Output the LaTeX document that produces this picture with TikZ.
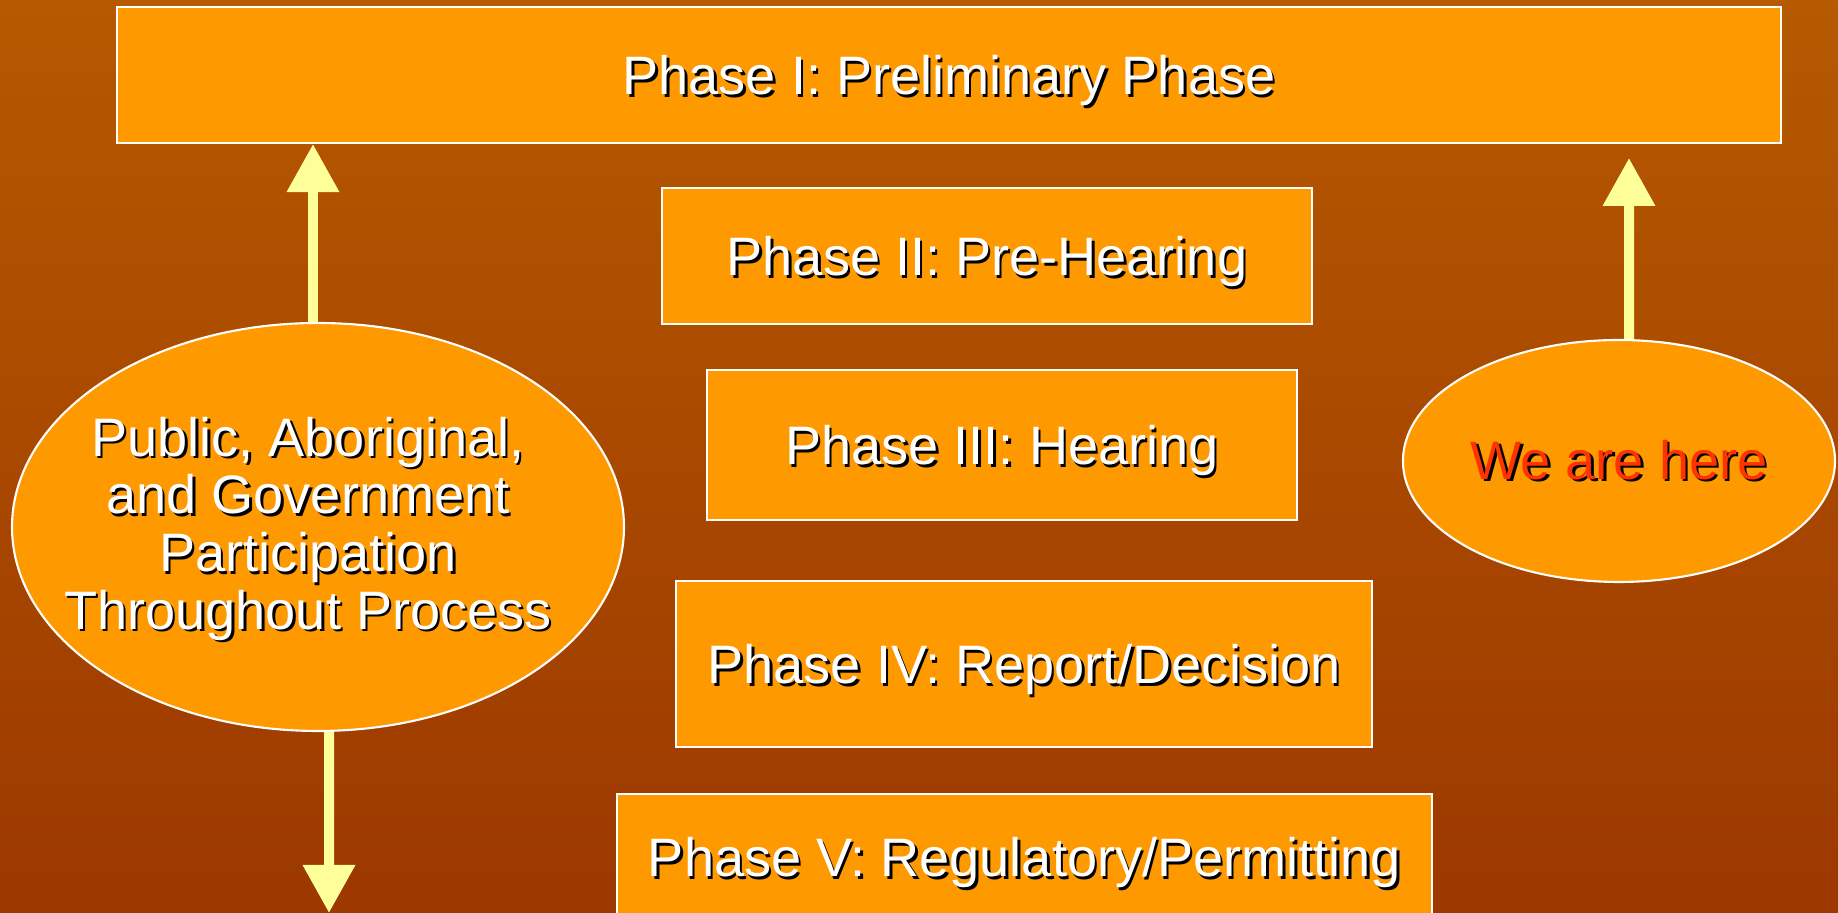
\documentclass[tikz,border=0pt]{standalone}
\usepackage{fontspec}
\setmainfont{Liberation Sans}
\usetikzlibrary{shapes.geometric, arrows.meta}

\definecolor{bgtop}{RGB}{182,89,0}
\definecolor{bgbottom}{RGB}{156,56,0}
\definecolor{boxorange}{RGB}{255,153,0}
\definecolor{arrowyellow}{RGB}{255,255,153}
\definecolor{herered}{RGB}{255,51,0}

\newcommand{\shadowed}[1]{\leavevmode\rlap{\raisebox{-0.7pt}{\hspace{0.7pt}\textcolor{black}{#1}}}#1}

\begin{document}
\begin{tikzpicture}

    \tikzstyle{phasebox} = [draw=white, line width=0.6pt, fill=boxorange, text=white, inner sep=0, text depth=0pt, font=\fontsize{15.4pt}{16.2pt}\selectfont];
    \tikzstyle{oval} = [draw=white, line width=0.6pt, fill=boxorange, ellipse, inner sep=0];
    \tikzstyle{ovaltext} = [text=white, align=center, inner sep=0, font=\fontsize{15.4pt}{16.4pt}\selectfont];
    \tikzstyle{arrow} = [line width=1mm, arrowyellow, -{Triangle[length=4.8mm, width=5mm]}];

    \useasboundingbox (0,0) rectangle (18.38,9.13);
    \shade[top color=bgtop, bottom color=bgbottom] (0,0) rectangle (18.38,9.13);

    % Phases
    \node[phasebox, minimum width=16.64cm, minimum height=1.36cm] (P1) at (9.49,8.38) {\shadowed{Phase I: Preliminary Phase}};
    \node[phasebox, minimum width=6.50cm, minimum height=1.36cm] (P2) at (9.87,6.57) {\shadowed{Phase II: Pre-Hearing}};
    \node[phasebox, minimum width=5.90cm, minimum height=1.50cm] (P3) at (10.02,4.68) {\shadowed{Phase III: Hearing}};
    \node[phasebox, minimum width=6.96cm, minimum height=1.66cm] (P4) at (10.24,2.49) {\shadowed{Phase IV: Report/Decision}};
    \node[phasebox, minimum width=8.15cm, minimum height=1.26cm] (P5) at (10.245,0.56) {\shadowed{Phase V: Regulatory/Permitting}};
    % Phases

    % Left - Participation
    \node[oval, minimum width=6.12cm, minimum height=4.08cm] (PUB) at (3.18,3.86) {};
    \node[ovaltext] (PUBT) at ([xshift=-0.1cm, yshift=-0.03cm]PUB.center)
    {\shadowed{Public, Aboriginal,}\\ \shadowed{and Government}\\ \shadowed{Participation}\\ \shadowed{Throughout Process}};

    \coordinate (PUBEND) at (3.29,0);
    \draw [arrow] ([xshift=-0.05cm]PUB.north) -- ([xshift=-0.05cm]PUB.north |- P1.south);
    \draw [arrow] ([xshift=0.11cm]PUB.south) -- (PUBEND);
    % Left - Participation

    % Right - Here
    \node[oval, minimum width=4.32cm, minimum height=2.42cm] (HERE) at (16.19,4.52) {};
    \node[ovaltext, text=herered] (HERET) at (HERE.center) {\shadowed{We are here}};

    \coordinate (HERETIP) at (16.29,7.55);
    \draw [arrow] ([xshift=0.1cm]HERE.north) -- (HERETIP);
    % Right - Here

\end{tikzpicture}
\end{document}
